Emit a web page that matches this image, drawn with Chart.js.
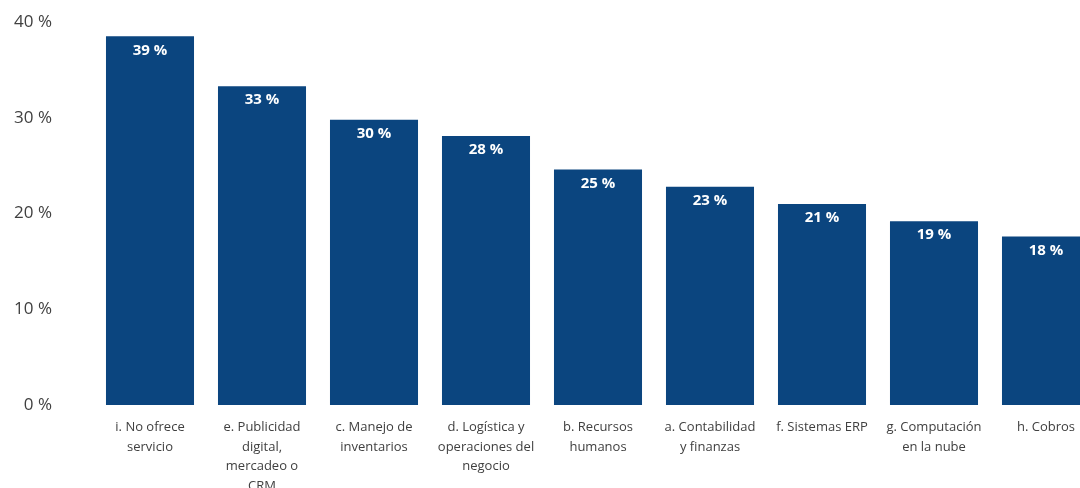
<!DOCTYPE html>
<html>
<head>
<meta charset="utf-8">
<script src="https://cdn.jsdelivr.net/npm/chart.js@4"></script>
<style>
  html, body { margin: 0; padding: 0; background: #fff; overflow: hidden; }
  #wrap { width: 1102px; height: 500px; }
</style>
</head>
<body>
<div id="wrap"><canvas id="servicios" width="1102" height="500"></canvas></div>
<script>
const categories = [
  ['i. No ofrece', 'servicio'],
  ['e. Publicidad', 'digital,', 'mercadeo o', 'CRM'],
  ['c. Manejo de', 'inventarios'],
  ['d. Logística y', 'operaciones del', 'negocio'],
  ['b. Recursos', 'humanos'],
  ['a. Contabilidad', 'y finanzas'],
  ['f. Sistemas ERP'],
  ['g. Computación', 'en la nube'],
  ['h. Cobros']
];
const shares = [38.5, 33.3, 29.8, 28.1, 24.6, 22.8, 21.0, 19.2, 17.6];
const yTicks = [0, 10, 20, 30, 40];

// labels inside the top of each bar
const barLabels = {
  id: 'barLabels',
  afterDatasetsDraw(chart) {
    const ctx = chart.ctx;
    const meta = chart.getDatasetMeta(0);
    ctx.save();
    ctx.fillStyle = '#ffffff';
    ctx.font = 'bold 15px "Open Sans"';
    ctx.textAlign = 'center';
    ctx.textBaseline = 'middle';
    meta.data.forEach((bar, i) => {
      ctx.fillText(Math.round(shares[i]) + ' %', bar.x, bar.y + 14);
    });
    ctx.restore();
  }
};

const ctx = document.getElementById('servicios').getContext('2d');
const chart = new Chart(ctx, {
  type: 'bar',
  data: {
    labels: categories,
    datasets: [{
      data: shares,
      backgroundColor: '#0B457F',
      borderWidth: 0,
      categoryPercentage: 1,
      barPercentage: 0.786
    }]
  },
  options: {
    responsive: false,
    animation: false,
    layout: { padding: { top: 22, right: 0, bottom: 0, left: 0 } },
    plugins: { legend: { display: false }, tooltip: { enabled: false } },
    scales: {
      x: {
        grid: { display: false, drawTicks: false },
        border: { display: false },
        ticks: {
          color: '#404040',
          font: { family: 'Open Sans', size: 13, lineHeight: 1.5 },
          padding: 13,
          maxRotation: 0,
          autoSkip: false
        },
        afterFit(scale) { scale.height = 95; }
      },
      y: {
        min: 0,
        max: 40,
        grid: { display: false, drawTicks: false },
        border: { display: false },
        afterBuildTicks(scale) { scale.ticks = yTicks.map(v => ({ value: v })); },
        ticks: {
          color: '#404040',
          font: { family: 'Open Sans', size: 17 },
          padding: 42,
          callback: v => v + ' %'
        },
        afterFit(scale) {
          scale.width = 94;
          scale.paddingTop = 0;
          scale.paddingBottom = 0;
        }
      }
    }
  },
  plugins: [barLabels]
});
</script>
</body>
</html>
